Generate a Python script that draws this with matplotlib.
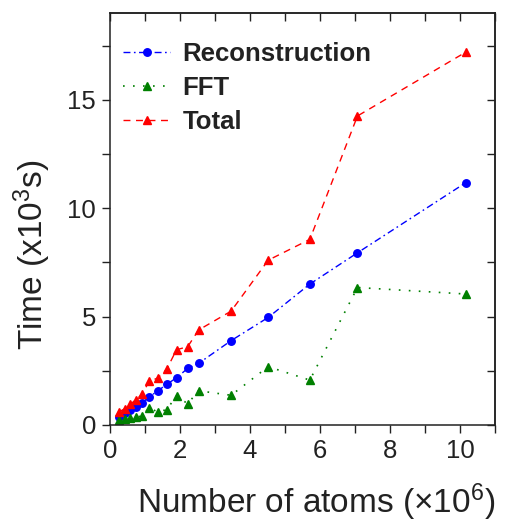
import matplotlib
matplotlib.use("Agg")
import matplotlib.pyplot as plt
from matplotlib.ticker import MultipleLocator

atoms = [0.25, 0.42, 0.57, 0.73, 0.92, 1.12, 1.36, 1.62, 1.90, 2.22, 2.53, 3.46, 4.52, 5.71, 7.07, 10.17]
recon = [0.35, 0.55, 0.68, 0.84, 1.03, 1.29, 1.57, 1.87, 2.18, 2.61, 2.84, 3.89, 4.96, 6.50, 7.94, 11.18]
fft = [0.25, 0.28, 0.31, 0.37, 0.41, 0.80, 0.60, 0.71, 1.34, 0.98, 1.58, 1.37, 2.69, 2.07, 6.34, 6.04]
total = [0.60, 0.75, 0.95, 1.15, 1.42, 2.02, 2.16, 2.57, 3.47, 3.61, 4.38, 5.25, 7.60, 8.56, 14.25, 17.20]
series_labels = ["Reconstruction", "FFT", "Total"]
xlabel = "Number of atoms (\u00d710$^6$)"
ylabel = "Time (x10$^3$s)"

plt.rcParams['font.family'] = ['Liberation Sans', 'DejaVu Sans']
plt.rcParams['mathtext.fontset'] = 'custom'
plt.rcParams['mathtext.rm'] = 'Liberation Sans'
plt.rcParams['mathtext.it'] = 'Liberation Sans'

fig = plt.figure(figsize=(5.17, 5.22), dpi=100)
ax = fig.add_axes([110/517, 97/522, 385/517, 412/522])

ax.plot(atoms, recon, color='blue', linestyle=(0, (5, 2.5, 1.2, 2.5)), lw=1.0,
        marker='o', ms=5.4, label=series_labels[0])
ax.plot(atoms, fft, color='green', linestyle=(0, (1, 5)), lw=1.2,
        marker='^', ms=6, label=series_labels[1])
ax.plot(atoms, total, color='red', linestyle=(0, (5, 4)), lw=1.0,
        marker='^', ms=6, label=series_labels[2])

ax.set_xlim(0, 11)
ax.set_ylim(0, 19)
ax.xaxis.set_major_locator(MultipleLocator(2))
ax.xaxis.set_minor_locator(MultipleLocator(1))
ax.yaxis.set_major_locator(MultipleLocator(5))
ax.yaxis.set_minor_locator(MultipleLocator(2.5))
ax.tick_params(which='both', direction='out', length=6, width=1.0,
               labelsize=18.5, colors='#222222', pad=4)
for s in ax.spines.values():
    s.set_linewidth(1.1)
    s.set_color('#222222')

secx = ax.secondary_xaxis('top')
secx.xaxis.set_major_locator(MultipleLocator(1))
secx.tick_params(direction='in', length=6, width=1.0, labeltop=False, colors='#222222')
secy = ax.secondary_yaxis('right')
secy.yaxis.set_major_locator(MultipleLocator(2.5))
secy.tick_params(direction='in', length=6, width=1.0, labelright=False, colors='#222222')
for s in list(secx.spines.values()) + list(secy.spines.values()):
    s.set_linewidth(1.1)
    s.set_color('#222222')

ax.set_xlabel(xlabel, fontsize=24, color='#222222')
ax.set_ylabel(ylabel, fontsize=24, color='#222222')
ax.xaxis.label.set_va('baseline')
ax.xaxis.set_label_coords(0.535, -0.2136)
ax.yaxis.set_label_coords(-0.148, 0.413)

leg = ax.legend(loc='upper left', frameon=False, prop={'weight': 'bold', 'size': 18.5},
                handlelength=1.85, borderaxespad=0.1, labelspacing=0.4,
                handletextpad=0.47, bbox_to_anchor=(0.0, 0.962))
for t in leg.get_texts():
    t.set_color('#222222')

fig.savefig('out.png', dpi=100)
